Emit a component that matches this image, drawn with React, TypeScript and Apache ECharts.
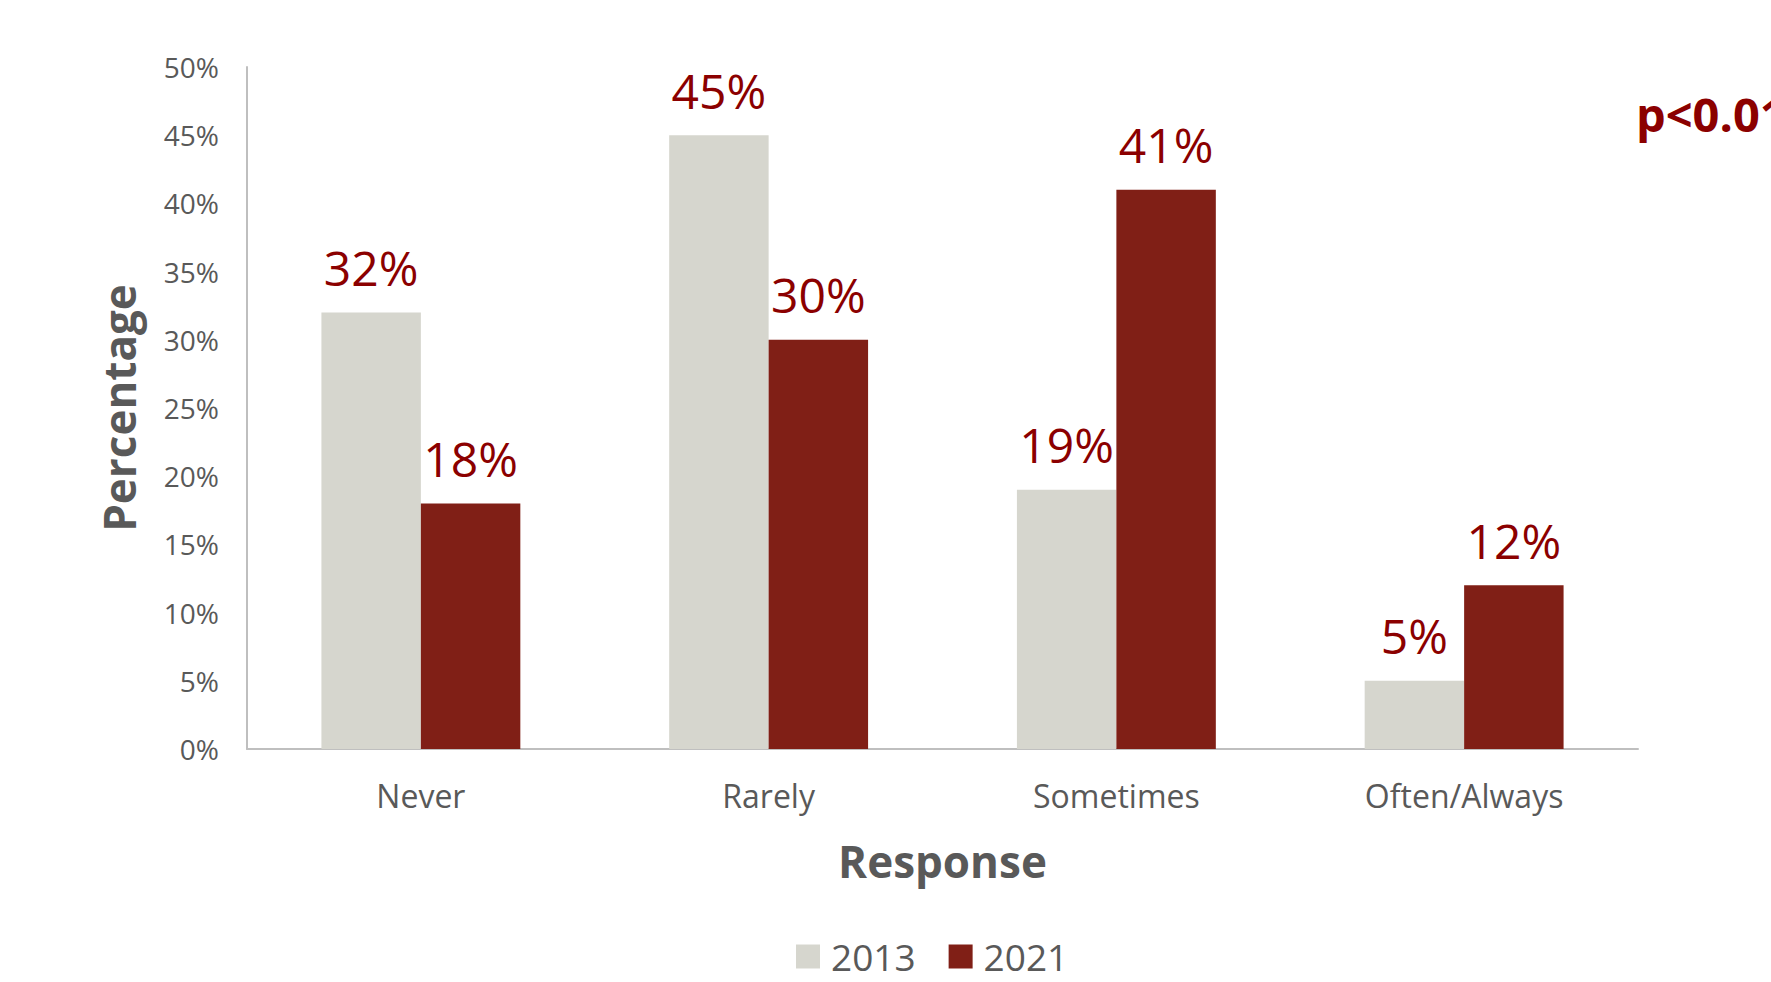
import React, { useEffect, useRef } from "react";
import * as echarts from "echarts";

const categories = ["Never", "Rarely", "Sometimes", "Often/Always"];
const values2013 = [32, 45, 19, 5];
const values2021 = [18, 30, 41, 12];
const seriesNames = ["2013", "2021"];
const yTicks = { min: 0, max: 50, interval: 5 };

const FONT = "'Open Sans', 'Noto Sans', sans-serif";
const GREY_TEXT = "#595959";
const LABEL_RED = "#8B0000";

export default function App() {
  const ref = useRef<HTMLDivElement>(null);
  useEffect(() => {
    if (!ref.current) return;
    const chart = echarts.init(ref.current, null, { renderer: "svg" });
    const labelCfg = {
      show: true,
      position: "top",
      distance: 21,
      formatter: "{c}%",
      color: LABEL_RED,
      fontSize: 48,
      fontFamily: FONT,
    };
    chart.setOption({
      animation: false,
      backgroundColor: "#ffffff",
      textStyle: { fontFamily: FONT },
      grid: { left: 247, top: 67, right: 133, bottom: 233, containLabel: false },
      legend: {
        data: seriesNames,
        bottom: 2,
        left: 791,
        itemWidth: 24,
        itemHeight: 24,
        itemGap: 33,
        icon: "rect",
        textStyle: { fontSize: 37, color: GREY_TEXT, fontFamily: FONT, padding: [0, 0, 0, 6] },
      },
      xAxis: {
        type: "category",
        data: categories,
        axisLine: { show: true, lineStyle: { color: "#BFBFBF", width: 2 } },
        axisTick: { show: false },
        axisLabel: { fontSize: 32, color: GREY_TEXT, margin: 30, fontFamily: FONT },
        name: "Response",
        nameLocation: "middle",
        nameGap: 90,
        nameTextStyle: { fontSize: 44, fontWeight: "bold", color: GREY_TEXT, fontFamily: FONT },
      },
      yAxis: {
        type: "value",
        min: yTicks.min,
        max: yTicks.max,
        interval: yTicks.interval,
        axisLine: { show: true, lineStyle: { color: "#BFBFBF", width: 2 } },
        axisTick: { show: false },
        splitLine: { show: false },
        axisLabel: { fontSize: 28, color: GREY_TEXT, margin: 28, formatter: "{value}%", fontFamily: FONT },
        name: "Percentage",
        nameLocation: "middle",
        nameGap: 106,
        nameRotate: 90,
        nameTextStyle: { fontSize: 44, fontWeight: "bold", color: GREY_TEXT, fontFamily: FONT },
      },
      series: [
        {
          name: seriesNames[0],
          type: "bar",
          data: values2013,
          barGap: "0%",
          barCategoryGap: "42.8%",
          itemStyle: { color: "#D6D6CE" },
          label: labelCfg,
        },
        {
          name: seriesNames[1],
          type: "bar",
          data: values2021,
          barGap: "0%",
          barCategoryGap: "42.8%",
          itemStyle: { color: "#801F16" },
          label: labelCfg,
        },
      ],
      graphic: [
        {
          type: "text",
          left: 1636,
          top: 90,
          style: {
            text: "p<0.01",
            fontSize: 47,
            fontWeight: "bold",
            fill: LABEL_RED,
            fontFamily: FONT,
          },
        },
      ],
    });
    return () => chart.dispose();
  }, []);
  return (
    <div
      ref={ref}
      style={{ position: "fixed", left: 0, top: 0, width: 1771, height: 982, background: "#fff" }}
    />
  );
}
